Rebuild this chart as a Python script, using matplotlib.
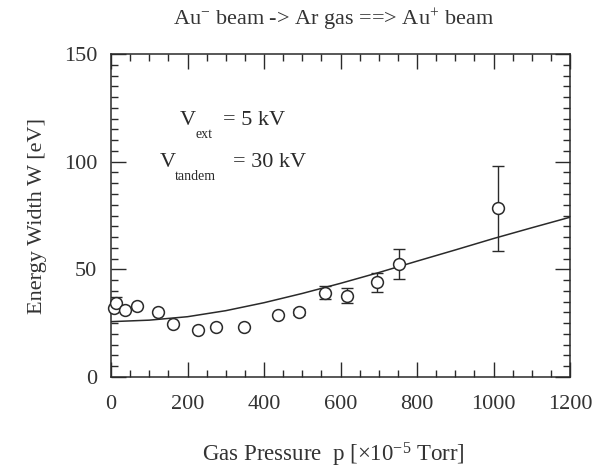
import numpy as np
import matplotlib
matplotlib.use("Agg")
import matplotlib.pyplot as plt
from matplotlib.ticker import MultipleLocator

plt.rcParams['font.family'] = ['Liberation Serif', 'DejaVu Serif']
plt.rcParams['mathtext.fontset'] = 'custom'
plt.rcParams['mathtext.rm'] = 'Liberation Serif'
plt.rcParams['mathtext.it'] = 'Liberation Serif:italic'

# measured points
pressure = [8, 13, 37, 69, 124, 163, 227, 275, 349, 437, 492, 559, 616, 696, 754, 1011]
width = [31.9, 34.3, 31.2, 33.0, 30.4, 24.6, 21.6, 23.1, 23.0, 28.8, 30.1, 39.2, 37.8, 44.0, 52.5, 78.4]
width_err = [0, 2.7, 0, 0, 0, 0, 0, 0, 0, 0, 1.5, 3.0, 3.4, 4.3, 6.8, 19.7]

# fitted curve
curve_p = [0, 100, 200, 300, 400, 500, 600, 700, 800, 900, 1000, 1100, 1200]
curve_w = [25.7, 26.4, 28.0, 30.8, 34.5, 38.8, 43.5, 48.5, 53.8, 59.0, 64.3, 69.3, 74.2]

xticks = [0, 200, 400, 600, 800, 1000, 1200]
yticks = [0, 50, 100, 150]

ink = '#2a2a2a'
W, H = 605, 468
fig = plt.figure(figsize=(W / 100, H / 100), dpi=100)
ax = fig.add_axes([111 / W, 1 - 377 / H, (570 - 111) / W, (377 - 54) / H])

ax.plot(curve_p, curve_w, color=ink, lw=1.1, zorder=2)

p = np.array(pressure, float)
w = np.array(width, float)
e = np.array(width_err, float)
m = e > 0
ax.errorbar(p[m], w[m], yerr=e[m], fmt='none', ecolor=ink, elinewidth=1.0,
            capsize=4, capthick=1.0, zorder=3)
ax.plot(p, w, 'o', mfc='white', mec=ink, mew=1.1, ms=8.5, ls='none', zorder=4,
        clip_on=False)

ax.set_xlim(0, 1200)
ax.set_ylim(0, 150)
ax.set_xticks(xticks)
ax.set_yticks(yticks)
ax.xaxis.set_minor_locator(MultipleLocator(50))
ax.yaxis.set_minor_locator(MultipleLocator(5))
ax.tick_params(which='both', direction='in', top=True, right=True, colors=ink,
               labelcolor='#333333', labelsize=16)
ax.tick_params(which='major', length=11, width=1.0)
ax.tick_params(which='minor', length=5, width=1.0)
ax.tick_params(axis='x', pad=13)
ax.tick_params(axis='y', pad=10)
for s in ax.spines.values():
    s.set_color(ink)
    s.set_linewidth(1.1)

ax.set_ylabel('Energy Width W [eV]', fontsize=16, color='#333333', labelpad=12)
ax.set_xlabel('Gas Pressure  p [×10$^{-5}$ Torr]', fontsize=16.5, color='#333333')
ax.xaxis.set_label_coords((333 - 111) / (570 - 111), -(455 - 377) / (377 - 54), transform=ax.transAxes)
ax.xaxis.label.set_va('center')

fig.text(333 / W, 1 - 20 / H, 'Au$^{-}$ beam -> Ar gas ==> Au$^{+}$ beam',
         ha='center', va='center', fontsize=16, color='#333333')

# annotation text
fig.text(180 / W, 1 - 125 / H, 'V', fontsize=16, color=ink, ha='left', va='baseline')
fig.text(195 / W, 1 - 138 / H, 'ext', fontsize=10, color=ink, ha='left', va='baseline')
fig.text(223 / W, 1 - 125 / H, '= 5 kV', fontsize=16, color=ink, ha='left', va='baseline')
fig.text(160 / W, 1 - 167 / H, 'V', fontsize=16, color=ink, ha='left', va='baseline')
fig.text(175 / W, 1 - 180 / H, 'tandem', fontsize=10, color=ink, ha='left', va='baseline')
fig.text(233 / W, 1 - 167 / H, '= 30 kV', fontsize=16, color=ink, ha='left', va='baseline')

fig.savefig('out.png', dpi=100)
